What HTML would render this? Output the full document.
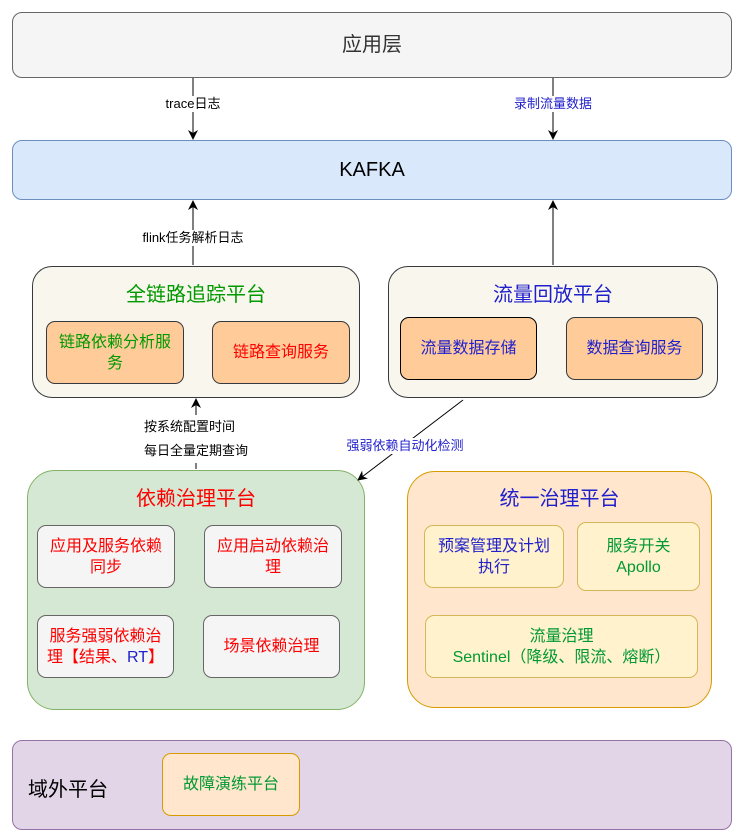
<!DOCTYPE html>
<html><head><meta charset="utf-8"><style>
body{margin:0;width:743px;height:839px;background:#fff;position:relative;overflow:hidden;font-family:"Liberation Sans","Noto Sans CJK SC",sans-serif}
.b{position:absolute;box-sizing:border-box;display:flex;align-items:center;justify-content:center;text-align:center;font-size:16px;line-height:21px}
.b>div{padding:0 4px}
.t{position:absolute;font-size:20px;text-align:center;white-space:nowrap}
.l{position:absolute;font-size:13px;background:#fff;white-space:nowrap;line-height:16px;transform:translate(-50%,-50%)}
svg{position:absolute;left:0;top:0}
</style></head><body>
<div class="b" style="left:12px;top:12px;width:720px;height:66px;background:#f5f5f5;border:1px solid #666;border-radius:10px;font-size:20px;color:#333"><div>应用层</div></div>
<div class="b" style="left:12px;top:140px;width:720px;height:60px;background:#dae8fc;border:1px solid #6c8ebf;border-radius:10px;font-size:20px;color:#000"><div>KAFKA</div></div>

<div class="b" style="left:32px;top:266px;width:328px;height:132px;background:#f9f7ed;border:1px solid #36393d;border-radius:20px"></div>
<div class="t" style="left:32px;width:328px;top:278px;color:#009900">全链路追踪平台</div>
<div class="b" style="left:46px;top:321px;width:138px;height:63px;background:#ffcc99;border:1px solid #36393d;border-radius:9px;color:#009900"><div>链路依赖分析服<br>务</div></div>
<div class="b" style="left:212px;top:321px;width:138px;height:63px;background:#ffcc99;border:1px solid #36393d;border-radius:9px;color:#ff0000"><div>链路查询服务</div></div>

<div class="b" style="left:388px;top:266px;width:330px;height:132px;background:#f9f7ed;border:1px solid #36393d;border-radius:20px"></div>
<div class="t" style="left:388px;width:330px;top:278px;color:#1f1fcc">流量回放平台</div>
<div class="b" style="left:400px;top:317px;width:137px;height:63px;background:#ffcc99;border:1.5px solid #000;border-radius:9px;color:#1f1fcc"><div>流量数据存储</div></div>
<div class="b" style="left:566px;top:317px;width:137px;height:63px;background:#ffcc99;border:1px solid #36393d;border-radius:9px;color:#1f1fcc"><div>数据查询服务</div></div>

<div class="b" style="left:27px;top:470px;width:338px;height:240px;background:#d5e8d4;border:1px solid #82b366;border-radius:28px"></div>
<div class="t" style="left:27px;width:338px;top:482px;color:#ff0000">依赖治理平台</div>
<div class="b" style="left:37px;top:525px;width:138px;height:63px;background:#f5f5f5;border:1px solid #666;border-radius:9px;color:#ff0000"><div>应用及服务依赖<br>同步</div></div>
<div class="b" style="left:204px;top:525px;width:138px;height:63px;background:#f5f5f5;border:1px solid #666;border-radius:9px;color:#ff0000"><div>应用启动依赖治<br>理</div></div>
<div class="b" style="left:37px;top:615px;width:137px;height:63px;background:#f5f5f5;border:1px solid #666;border-radius:9px;color:#ff0000"><div style="padding:0;white-space:nowrap">服务强弱依赖治<br>理【结果、<span style="color:#1f1fcc">RT</span>】</div></div>
<div class="b" style="left:203px;top:615px;width:137px;height:63px;background:#f5f5f5;border:1px solid #666;border-radius:9px;color:#ff0000"><div>场景依赖治理</div></div>

<div class="b" style="left:407px;top:471px;width:305px;height:237px;background:#ffe6cc;border:1px solid #d79b00;border-radius:28px"></div>
<div class="t" style="left:407px;width:305px;top:482px;color:#1f1fcc">统一治理平台</div>
<div class="b" style="left:424px;top:525px;width:140px;height:63px;background:#fff2cc;border:1px solid #d6b656;border-radius:9px;color:#1f1fcc"><div>预案管理及计划<br>执行</div></div>
<div class="b" style="left:577px;top:522px;width:123px;height:69px;background:#fff2cc;border:1px solid #d6b656;border-radius:9px;color:#009933"><div>服务开关<br>Apollo</div></div>
<div class="b" style="left:425px;top:615px;width:273px;height:63px;background:#fff2cc;border:1px solid #d6b656;border-radius:9px;color:#009933"><div style="white-space:nowrap">流量治理<br>Sentinel（降级、限流、熔断）</div></div>

<div class="b" style="left:12px;top:740px;width:720px;height:90px;background:#e1d5e7;border:1px solid #9673a6;border-radius:10px"></div>
<div class="t" style="left:28px;top:773px;color:#000">域外平台</div>
<div class="b" style="left:162px;top:753px;width:138px;height:63px;background:#ffe6cc;border:1px solid #d79b00;border-radius:9px;color:#009933"><div>故障演练平台</div></div>

<svg width="743" height="839">
<defs><marker id="a" markerWidth="10" markerHeight="10" refX="9" refY="5" orient="auto" markerUnits="userSpaceOnUse"><path d="M0,0 L10,5 L0,10 L3,5 z" fill="#000"/></marker></defs>
<g stroke="#000" stroke-width="1" fill="none">
<line x1="193" y1="78" x2="193" y2="139" marker-end="url(#a)"/>
<line x1="553" y1="78" x2="553" y2="139" marker-end="url(#a)"/>
<line x1="193" y1="265" x2="193" y2="201" marker-end="url(#a)"/>
<line x1="553" y1="265" x2="553" y2="201" marker-end="url(#a)"/>
<line x1="196" y1="469" x2="196" y2="399" marker-end="url(#a)"/>
<line x1="463" y1="400" x2="358" y2="480" marker-end="url(#a)"/>
</g></svg>
<div class="l" style="left:193px;top:104px">trace日志</div>
<div class="l" style="left:553px;top:104px;color:#1f1fcc">录制流量数据</div>
<div class="l" style="left:193px;top:238px">flink任务解析日志</div>
<div class="l" style="left:196px;top:439px;line-height:24px">按系统配置时间<br>每日全量定期查询</div>
<div class="l" style="left:405px;top:446px;color:#1f1fcc">强弱依赖自动化检测</div>
</body></html>
